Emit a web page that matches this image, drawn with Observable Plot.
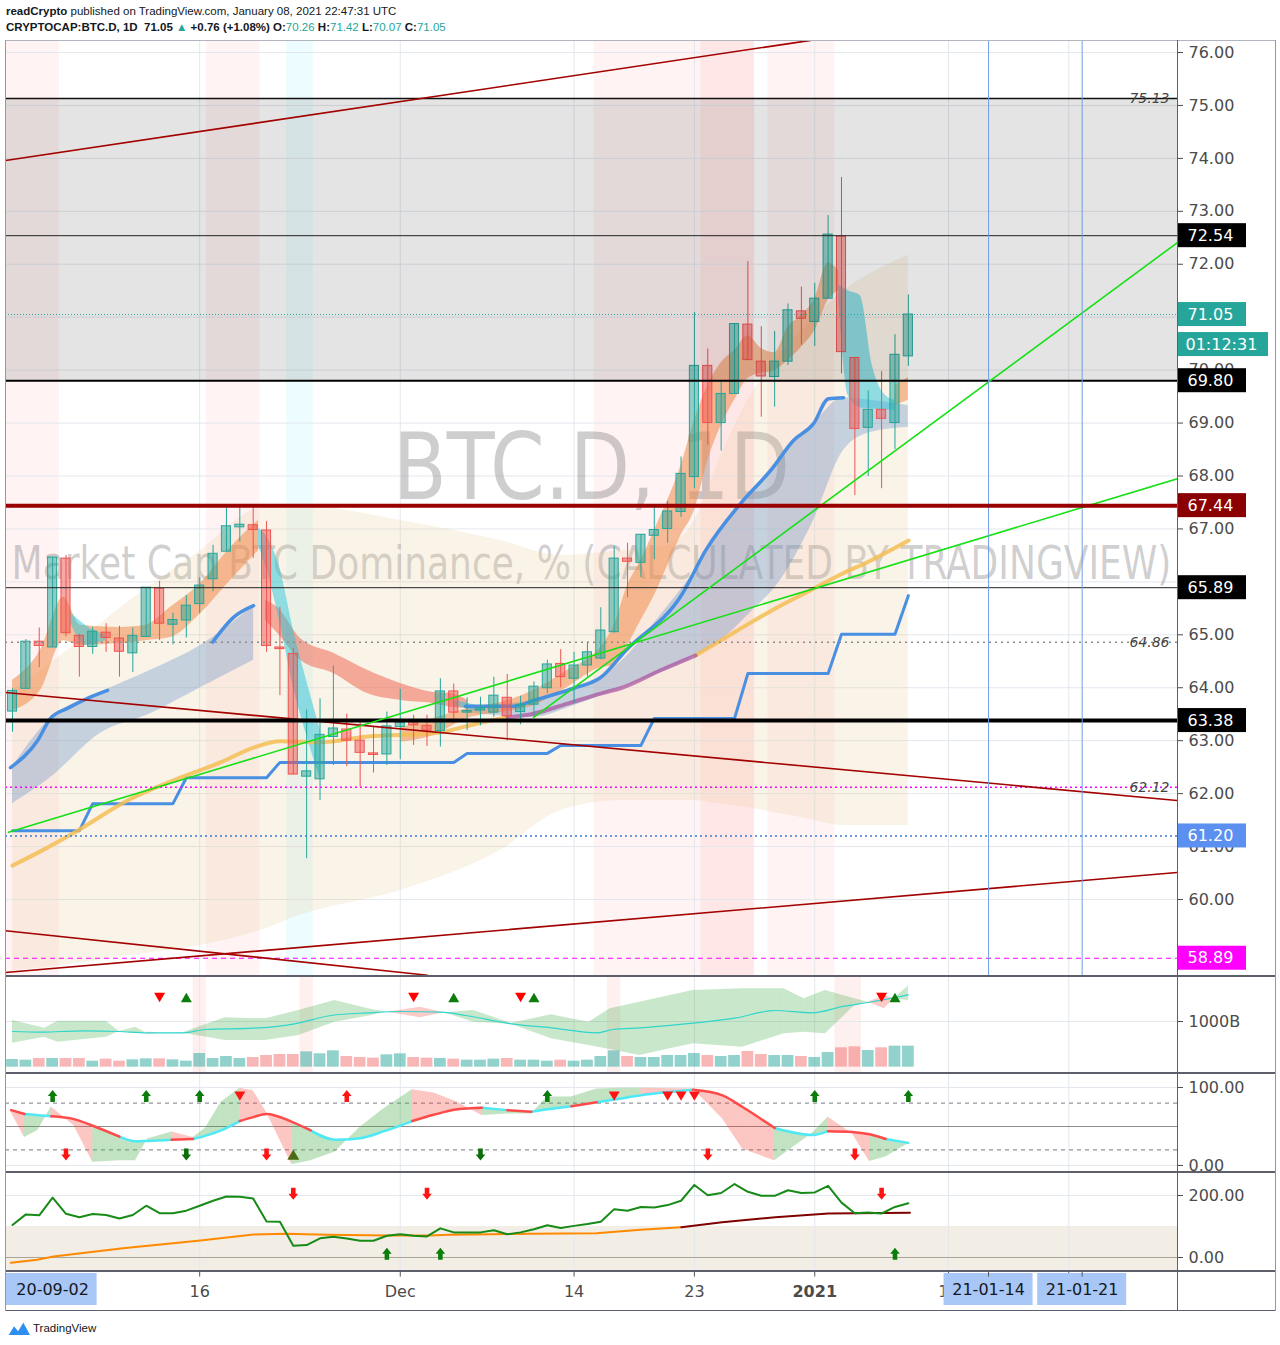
<!DOCTYPE html>
<html>
<head>
<meta charset="utf-8">
<script src="https://cdn.jsdelivr.net/npm/d3@7"></script>
<script src="https://cdn.jsdelivr.net/npm/@observablehq/plot@0.6"></script>
<style>
html,body{margin:0;padding:0;background:#ffffff;}
#root{position:relative;width:1280px;height:1345px;overflow:hidden;background:#fff;}
.ln{position:absolute;}
.hdr{position:absolute;left:6px;font-family:"Liberation Sans",Arial,sans-serif;font-size:11.5px;color:#131722;white-space:nowrap;line-height:14px;}
.hdr .v{color:#26a69a;}
.foot{position:absolute;left:7px;top:1320px;font-family:"Liberation Sans",Arial,sans-serif;font-size:11.5px;color:#131722;display:flex;align-items:center;gap:2px;}
</style>
</head>
<body>
<div id="root"></div>
<script>
// ---------------- DATA ----------------
// candles: index 0 = 2020-11-02 ... 67 = 2021-01-08
const open = [63.55,63.98,64.87,64.76,66.44,64.98,64.77,65.04,64.93,64.65,
 64.96,65.87,65.19,65.27,65.58,66.05,66.57,67.03,67.07,66.97,
 64.76,64.64,62.32,62.27,63.07,63.21,63.00,62.76,62.74,63.26,
 63.34,63.28,63.18,63.93,63.53,63.57,63.53,63.81,63.54,63.68,
 63.99,64.45,64.17,64.42,64.55,65.05,66.44,66.36,66.87,67.00,
 67.32,67.98,70.08,69.00,69.55,70.86,70.16,69.87,70.16,71.11,
 70.91,71.35,72.52,70.23,68.91,69.25,69.00,70.26];
const high = [63.98,64.91,65.13,66.46,66.50,65.01,65.14,65.21,65.16,65.13,
 65.89,66.01,65.41,65.74,66.08,66.69,67.40,67.40,67.40,67.14,
 65.52,64.74,63.58,63.79,64.41,63.50,63.38,63.26,63.54,63.97,
 63.48,63.48,64.17,64.07,63.81,63.82,64.20,64.25,63.84,64.11,
 64.52,64.72,64.67,64.86,65.51,66.67,66.73,66.89,67.41,67.52,
 68.36,71.09,70.40,69.79,70.87,72.05,70.82,70.73,71.25,71.57,
 71.64,72.92,73.64,70.23,69.61,69.97,70.67,71.42];
const low = [63.16,63.98,64.38,64.76,64.96,64.20,64.63,64.67,64.20,64.29,
 64.96,64.89,64.81,64.94,65.40,65.81,66.57,66.75,66.44,64.67,
 63.85,62.36,60.77,61.87,62.53,62.51,62.12,62.39,62.53,62.64,
 62.91,62.89,62.88,63.33,63.19,63.28,63.44,63.00,63.30,63.44,
 63.89,64.00,63.70,64.20,64.53,65.03,65.70,66.08,66.42,66.73,
 67.22,67.76,68.58,68.47,69.55,70.19,69.11,69.30,70.09,70.47,
 70.45,71.35,69.93,67.63,67.99,67.76,68.50,70.07];
const close = [63.94,64.87,64.79,66.46,65.03,64.77,65.06,64.94,64.68,64.98,
 65.89,65.21,65.28,65.55,65.93,66.53,67.05,67.08,66.98,64.79,
 64.74,62.36,62.42,63.11,63.23,63.00,62.77,62.74,63.27,63.34,
 63.29,63.19,63.93,63.53,63.56,63.61,63.85,63.46,63.68,64.02,
 64.44,64.20,64.42,64.67,65.08,66.44,66.38,66.89,66.98,67.33,
 68.04,70.08,69.00,69.55,70.87,70.19,69.88,70.16,71.13,70.97,
 71.35,72.56,70.34,68.89,69.25,69.08,70.29,71.05];
const volume = [168,154,190,190,190,190,132,176,132,161,
 183,183,161,132,300,190,234,190,212,256,
 278,278,336,293,358,234,212,198,271,293,
 212,198,190,176,154,154,176,190,154,154,
 132,154,132,154,234,358,234,212,212,256,
 256,300,256,234,256,344,278,256,256,234,
 212,322,424,446,365,424,461,461];
const stepLine = [61.30,61.30,61.30,61.30,61.30,61.30,
 61.81,61.81,61.81,61.81,61.81,61.81,61.81,
 62.30,62.30,62.30,62.30,62.30,62.30,62.30,
 62.59,62.59,62.59,62.59,62.59,62.59,62.59,62.59,62.59,62.59,62.59,62.59,62.59,62.59,
 62.76,62.76,62.76,62.76,62.76,62.76,62.76,
 62.91,62.91,62.91,62.91,62.91,62.91,62.91,
 63.42,63.42,63.42,63.42,63.42,63.42,63.42,
 64.27,64.27,64.27,64.27,64.27,64.27,64.27,
 65.01,65.01,65.01,65.01,65.01,
 65.74];

// moving lines on the price pane: [index, price]
const blueLineA = [[-0.15,62.49],[1.87,63.00],[2.84,63.42],[4.11,63.61],[5.61,63.80],[7.11,63.95]];
const blueLineB = [[14.96,64.86],[16.53,65.33],[18.03,65.55]];
const blueLineC = [[33.88,63.65],[37.47,63.65],[38.97,63.76],[41.96,63.99],[43.98,64.19],[45.85,64.70],[50.11,65.78],[51.83,66.59],[54.45,67.48],[56.69,68.10],[58.41,68.67],[59.91,68.99],[61.03,69.46],[62.15,69.48]];
const yellowA = [[0,60.64],[1.94,60.89],[4.86,61.30],[8.6,61.87],[12.04,62.25],[15.56,62.59],[18.03,62.87],[20.04,62.99],[23.04,62.97],[26.55,63.08],[31.49,63.14],[35.0,63.34],[37.02,63.44]];
const purpleSeg = [[37.02,63.44],[38.97,63.51],[41.51,63.70],[43.98,63.89],[45.47,63.99],[48.47,64.33],[51.08,64.61]];
const yellowB = [[51.08,64.61],[52.96,64.89],[55.2,65.23],[57.44,65.55],[59.69,65.84],[61.93,66.14],[64.17,66.40],[67.02,66.78]];

// bands on the price pane: index, upper, lower
const beigeI  = [0,3.6,8.8,14.06,18.5,21.5,29,36.5,41,45.5,49,51,53,55,57,59,62.2,67];
const beigeHi = [63.95,64.61,65.65,66.59,67.39,67.44,67.16,66.78,66.50,66.59,66.69,67.16,68.39,69.43,70.18,70.75,71.50,72.17];
const beigeLo = [58.66,58.75,58.94,59.13,59.41,59.70,60.17,60.93,61.68,61.87,61.87,61.87,61.80,61.74,61.64,61.55,61.40,61.40];
const lbLeftI  = [0,2.84,6.58,10.32,14.06,18.03];
const lbLeftHi = [62.51,63.42,63.91,64.33,64.80,65.55];
const lbLeftLo = [61.81,62.30,63.14,63.51,64.00,64.52];
const lbRightI  = [33.88,38.97,41.96,45.47,48.47,51.01,52.96,55.2,57.44,59.91,62.15,64.17,67.0];
const lbRightHi = [63.65,63.76,63.99,64.48,65.37,66.20,66.97,67.69,68.35,68.99,69.48,69.43,69.33];
const lbRightLo = [63.53,63.44,63.66,63.99,64.29,64.59,64.89,65.42,66.03,67.16,68.48,68.82,68.92];
const orLeftI  = [0,2.09,3.81,5.09,8.08,9.95,11.82,14.06,16.31,18.4];
const orLeftHi = [64.14,64.71,65.71,65.18,65.14,65.18,65.52,65.97,66.65,67.16];
const orLeftLo = [63.57,63.95,64.89,64.80,64.84,64.89,64.95,65.40,66.03,66.59];
const salmonI  = [18.92,19.82,21.54,24.01,26.55,29.02,31.49,32.76,34.03];
const salmonHi = [65.65,65.52,64.93,64.65,64.33,64.08,63.91,63.89,63.76];
const salmonLo = [65.27,65.03,64.52,64.27,63.89,63.76,63.70,63.63,63.61];
const cyanWedgeI  = [18.4,19.07,20.04,21.02,22.0,23.04];
const cyanWedgeHi = [67.01,66.84,66.22,65.08,64.13,63.19];
const cyanWedgeLo = [66.69,66.18,65.19,64.00,63.10,62.25];
const cyanSmallI  = [4.34,5.46,6.96];
const cyanSmallHi = [65.42,65.18,64.99];
const cyanSmallLo = [65.23,64.80,64.89];
const cyanMidI  = [33.1,35.0];
const cyanMidHi = [63.76,63.65];
const cyanMidLo = [63.66,63.53];
const orRightI  = [29.02,31.49,34.03,36.5,38.97,41.51,43.98,45,46,47,48,49,50,51,52,53,54,55,56,57,58,59,60,61,61.8];
const orRightHi = [63.25,63.42,63.61,63.72,63.95,64.33,64.76,65.18,65.93,66.40,66.97,67.54,68.20,69.05,69.71,70.14,70.37,70.65,70.41,70.33,70.81,71.03,71.35,72.03,71.88];
const orRightLo = [62.97,63.10,63.42,63.53,63.66,64.01,64.38,64.42,64.80,65.27,65.74,66.31,66.88,67.35,68.29,68.95,69.43,69.84,69.94,69.99,70.18,70.43,70.75,71.32,71.50];
const cyanRightI  = [61.8,62.5,63.4,64.3,65.3,66.0];
const cyanRightHi = [71.60,71.50,71.41,70.09,69.52,69.43];
const cyanRightLo = [71.32,69.52,69.29,69.27,69.24,69.24];
const orEndI  = [66,67];
const orEndHi = [69.71,69.86];
const orEndLo = [69.33,69.43];

// highlighted candle ranges [from, to]
const redZones = [[0,3],[15,18],[44,55],[52,55],[57,61]];
const cyanZones = [[21,22]];
const volZones = [[14,14],[22,22],[45,45],[62,63]];

// trend lines: two anchors [index, price]
const darkRedTrends = [
  [[-0.52,73.96],[59.69,76.23]],
  [[-0.52,63.91],[87.13,61.87]],
  [[-0.52,59.41],[31.04,58.57]],
  [[-0.52,58.62],[87.13,60.51]]
];
const greenTrends = [
  [[-0.30,61.27],[87.13,67.95]],
  [[38.97,63.44],[87.13,72.41]]
];
const boxRange = [69.80, 75.13];
const levelLabels = [75.13, 64.86, 62.12];
const tagValues = [72.54, 71.05, 69.80, 67.44, 65.89, 63.38, 61.20, 58.89];
const countdown = "01:12:31";
const priceTicks = [60,61,62,63,64,65,66,67,68,69,70,71,72,73,74,75,76];
const futureMarks = [73, 80];

// time axis
const timeTicks = [{i:14,label:"16"},{i:29,label:"Dec"},{i:42,label:"14"},{i:51,label:"23"},{i:60,label:"2021"},{i:70,label:"11"},{i:79,label:"20"}];
const dateBoxes = [{i:3,label:"20-09-02"},{i:73,label:"21-01-14"},{i:80,label:"21-01-21"}];

// volume pane
const volBandI = [0,2.4,3.4,7,8,9.2,10.2,11,12.8,15.9,18.9,21.4,24.1,26.6,28,30.5,32.3,34.5,37.3,40.3,43.1,44.7,46.9,50.9,54.6,57.7,59.2,60.8,63,64,65.2,65.9,67];
const volBandA = [1022,854,1007,1007,781,876,722,752,760,1080,1058,1241,1460,1277,1200,1080,1190,1241,960,1146,985,1277,1423,1678,1715,1715,1496,1678,1496,1423,1277,1496,1773];
const volBandB = [526,657,548,657,781,730,766,752,745,584,584,694,985,1117,1200,1314,1190,985,940,621,474,387,255,511,438,730,766,730,1350,1423,1569,1496,1460];
const volMAI = [0,2.2,5.2,8,10.1,12.8,14.4,18,21.1,23.8,26.6,29,32.1,33.9,37.3,40.3,43.7,44.9,47,50.9,54,57,59.8,62.2,64.1,67];
const volMAV = [781,766,796,781,753,753,825,853,950,1131,1190,1219,1204,1131,950,862,753,825,862,963,1072,1241,1190,1335,1422,1584];
const volSignalDown = [11,30,38,65];
const volSignalUp = [13,33,39,66];
const volSignalLevel = 1525;
const volTicks = [1000];

// stochastic pane
const stX = [-0.1,0.9,1.9,2.9,4.6,6.0,8.0,9.2,10.1,11.9,13.5,14.4,15.6,17.0,18.0,19.0,20.9,22.3,24.1,26.0,27.8,29.9,31.5,33.3,35.1,37.0,38.8,40.0,41.8,43.7,45.5,47.0,50.9,53.1,54.6,57.0,59.8,61.0,62.8,64.1,65.3,67.0];
const stK = [68,36,45,75,51,4,6,6,34,43,36,47,81,99,96,68,1,6,17,49,73,97,93,81,64,66,66,88,88,98,99,99,98,60,21,6,41,62,41,5,11,28];
const stD = [71,66,64.5,63,59.5,51,37,31,31.5,33,34,38,45,57,62,66,56,45,33,35,44,57,65,72,74,71,69,72,76,81,86,90,97,90,75,48,39,44,43,40,34,29];
const stState = [-1,1,1,-1,-1,-1,1,1,1,-1,1,1,1,-1,-1,-1,-1,1,1,1,1,-1,-1,-1,1,-1,1,1,-1,1,1,1,-1,-1,-1,1,1,-1,-1,-1,1,1];
const stLevels = [20,50,80];
const stTicks = [0,100];
const stUpGreenTop = [3,10,14,40,60,67];
const stUpRedTop = [25];
const stTriRedTop = [17,45,49,50,51];
const stDownRedBottom = [4,19,52,63];
const stDownGreenBottom = [13,35];
const stTriGreenBottom = [21];
const stTopLevel = 89, stBottomLevel = 14;

// third pane
const thGreen = [105,139,136,193,141,130,140,137,126,137,167,143,143,151,167,183,197,196,190,116,
 115,38,40,62,67,61,54,54,70,75,70,68,94,81,81,81,88,75,81,91,
 104,95,102,108,115,156,151,163,161,169,183,234,201,208,237,212,199,199,217,208,
 210,231,177,143,145,142,163,175];
const thOrange = [[-0.13,-17.2],[1.85,-7.5],[3.07,3.2],[8.26,30.1],[14.06,54.8],[18.03,74.2],[20.47,76.3],[23.5,73.1],[28.1,71.0],[31.15,71.0],[32.7,73.1],[38.79,76.3],[43.67,78.5],[46.97,89.2],[50.02,97.8]];
const thMaroon = [[50.02,97.8],[53.07,113.9],[57.05,130.1],[61.02,141.9],[67.12,144.1]];
const thZone = 100;
const thTicks = [0,200];
const thDownRed = [21,31,65];
const thUpGreen = [28,32,66];
const thTopLevel = 206, thBottomLevel = 12;

// ---------------- LAYOUT / STYLE ----------------
const TEAL = "#26a69a", RED = "#ef5350", GRID = "#e3e7ee", AXC = "#4b4b4b";
const W = 1270, MR = 98;
const X0 = -0.524, X1 = 87.13;
const pxu = (W - MR) / (X1 - X0);
const mainY = [58.564, 76.227], mainH = 935;
const pyu = mainH / (mainY[1] - mainY[0]);
const root = document.getElementById("root");

const candles = open.map((o, i) => ({i, o, h: high[i], l: low[i], c: close[i], v: volume[i], up: close[i] >= o}));
const bandOf = (I, H, L) => I.map((i, k) => ({i, hi: H[k], lo: L[k]}));
const pts = arr => arr.map(([i, p]) => ({i, p}));
const groups = list => list.flatMap((seg, g) => seg.map(([i, p]) => ({i, p, g})));

const base = (h, ydom) => ({
  width: W, height: h, marginLeft: 0, marginRight: MR, marginTop: 0, marginBottom: 0,
  x: {domain: [X0, X1], axis: null}, y: {domain: ydom, axis: null},
  color: {type: "identity"},
  style: {background: "transparent", fontFamily: "DejaVu Sans, sans-serif", fontSize: "16px", overflow: "visible"}
});
const rightAxis = (ticks, fmt) => Plot.axisY(ticks, {anchor: "right", tickSize: 5, tickPadding: 6, tickFormat: fmt, fontSize: 16, color: AXC, label: null});

// custom symbols
const rr = s => Math.sqrt(s / Math.PI);
const triUp = {draw(c, s) {const r = rr(s); c.moveTo(0, -r * 0.85); c.lineTo(r, r * 0.85); c.lineTo(-r, r * 0.85); c.closePath();}};
const triDown = {draw(c, s) {const r = rr(s); c.moveTo(0, r * 0.85); c.lineTo(r, -r * 0.85); c.lineTo(-r, -r * 0.85); c.closePath();}};
const arrUp = {draw(c, s) {const r = rr(s); c.moveTo(0, -r); c.lineTo(r * 0.8, 0); c.lineTo(r * 0.38, 0); c.lineTo(r * 0.38, r); c.lineTo(-r * 0.38, r); c.lineTo(-r * 0.38, 0); c.lineTo(-r * 0.8, 0); c.closePath();}};
const arrDown = {draw(c, s) {const r = rr(s); c.moveTo(0, r); c.lineTo(r * 0.8, 0); c.lineTo(r * 0.38, 0); c.lineTo(r * 0.38, -r); c.lineTo(-r * 0.38, -r); c.lineTo(-r * 0.38, 0); c.lineTo(-r * 0.8, 0); c.closePath();}};

function place(el, top) {
  el.style.position = "absolute"; el.style.left = "5px"; el.style.top = top + "px";
  root.appendChild(el);
}

// ---------------- MAIN PANE ----------------
const WM1 = "BTC.D, 1D", WM2 = "Market Cap BTC Dominance, % (CALCULATED BY TRADINGVIEW)";
const tagColors = ["#000000", TEAL, "#000000", "#8b0000", "#000000", "#000000", "#5b8ff0", "#ff00ff"];
const tags = tagValues.map((v, k) => ({v, color: tagColors[k]}));
const lastClose = close[close.length - 1];
const bodyTop = d => Math.abs(d.c - d.o) < 0.03 ? d.o + (d.up ? 0.03 : -0.03) : d.c;
// axis labels that sit completely under a price tag are not drawn
const visiblePriceTicks = priceTicks.filter(t => tagValues.every(v => Math.abs(t - v) * pyu > 7));

const mainSvg = Plot.plot({
  ...base(mainH, mainY),
  marks: [
    Plot.rect(redZones, {x1: d => d[0] - 0.5, x2: d => d[1] + 0.5, fill: "#ff3030", fillOpacity: 0.06}),
    Plot.rect(cyanZones, {x1: d => d[0] - 0.5, x2: d => d[1] + 0.5, fill: "#00e5ff", fillOpacity: 0.07}),
    Plot.ruleY(priceTicks, {stroke: GRID}),
    Plot.ruleX(timeTicks, {x: "i", stroke: GRID}),
    Plot.text([WM1], {frameAnchor: "middle", dy: -38, fontSize: 92, fill: "#777", fillOpacity: 0.36}),
    Plot.text([WM2], {frameAnchor: "middle", dy: 56, fontSize: 46, fill: "#777", fillOpacity: 0.36}),
    Plot.areaY(bandOf(beigeI, beigeHi, beigeLo), {x: "i", y1: "lo", y2: "hi", fill: "#e8c898", fillOpacity: 0.22, curve: "monotone-x"}),
    Plot.areaY(bandOf(lbLeftI, lbLeftHi, lbLeftLo), {x: "i", y1: "lo", y2: "hi", fill: "#4f86c6", fillOpacity: 0.3, curve: "monotone-x"}),
    Plot.areaY(bandOf(lbRightI, lbRightHi, lbRightLo), {x: "i", y1: "lo", y2: "hi", fill: "#4f86c6", fillOpacity: 0.3, curve: "monotone-x"}),
    Plot.areaY(bandOf(orLeftI, orLeftHi, orLeftLo), {x: "i", y1: "lo", y2: "hi", fill: "#f08a4b", fillOpacity: 0.55, curve: "monotone-x"}),
    Plot.areaY(bandOf(orRightI, orRightHi, orRightLo), {x: "i", y1: "lo", y2: "hi", fill: "#f08a4b", fillOpacity: 0.55, curve: "monotone-x"}),
    Plot.areaY(bandOf(orEndI, orEndHi, orEndLo), {x: "i", y1: "lo", y2: "hi", fill: "#f08a4b", fillOpacity: 0.55}),
    Plot.areaY(bandOf(salmonI, salmonHi, salmonLo), {x: "i", y1: "lo", y2: "hi", fill: "#ee6a55", fillOpacity: 0.55, curve: "monotone-x"}),
    Plot.areaY(bandOf(cyanWedgeI, cyanWedgeHi, cyanWedgeLo), {x: "i", y1: "lo", y2: "hi", fill: "#26c6da", fillOpacity: 0.5, curve: "monotone-x"}),
    Plot.areaY(bandOf(cyanSmallI, cyanSmallHi, cyanSmallLo), {x: "i", y1: "lo", y2: "hi", fill: "#26c6da", fillOpacity: 0.5, curve: "monotone-x"}),
    Plot.areaY(bandOf(cyanMidI, cyanMidHi, cyanMidLo), {x: "i", y1: "lo", y2: "hi", fill: "#26c6da", fillOpacity: 0.5}),
    Plot.areaY(bandOf(cyanRightI, cyanRightHi, cyanRightLo), {x: "i", y1: "lo", y2: "hi", fill: "#26c6da", fillOpacity: 0.5, curve: "monotone-x"}),
    Plot.line(stepLine, {x: (d, i) => i, y: d => d, stroke: "#4a90e2", strokeWidth: 3}),
    Plot.line(groups([blueLineA, blueLineB, blueLineC]), {x: "i", y: "p", z: "g", stroke: "#4a90e2", strokeWidth: 3.5, curve: "monotone-x"}),
    Plot.line(groups([yellowA, yellowB]), {x: "i", y: "p", z: "g", stroke: "#f5bd55", strokeOpacity: 0.85, strokeWidth: 4, curve: "monotone-x"}),
    Plot.line(pts(purpleSeg), {x: "i", y: "p", stroke: "#a8509f", strokeOpacity: 0.7, strokeWidth: 4, curve: "monotone-x"}),
    Plot.ruleX(candles.filter(d => d.up), {x: "i", y1: "l", y2: "h", stroke: TEAL}),
    Plot.ruleX(candles.filter(d => !d.up), {x: "i", y1: "l", y2: "h", stroke: RED}),
    Plot.rect(candles.filter(d => d.up), {x1: d => d.i - 0.34, x2: d => d.i + 0.34, y1: "o", y2: bodyTop, fill: TEAL, fillOpacity: 0.5, stroke: TEAL}),
    Plot.rect(candles.filter(d => !d.up), {x1: d => d.i - 0.34, x2: d => d.i + 0.34, y1: "o", y2: bodyTop, fill: RED, fillOpacity: 0.5, stroke: RED}),
    Plot.rect([boxRange], {y1: d => d[0], y2: d => d[1], fill: "#000", fillOpacity: 0.105}),
    Plot.ruleY([lastClose], {stroke: TEAL, strokeWidth: 1, strokeDasharray: "1,2"}),
    Plot.ruleY([tagValues[6]], {stroke: "#3d7bd9", strokeWidth: 1.5, strokeDasharray: "2,3"}),
    Plot.ruleY([levelLabels[2]], {stroke: "#ff00ff", strokeWidth: 1.5, strokeDasharray: "2,3"}),
    Plot.ruleY([levelLabels[1]], {stroke: "#8c8c8c", strokeWidth: 1.5, strokeDasharray: "2,4"}),
    Plot.ruleY([tagValues[7]], {stroke: "#ff00ff", strokeWidth: 1.2, strokeDasharray: "5,4"}),
    Plot.ruleY([levelLabels[0]], {stroke: "#111", strokeWidth: 1.5}),
    Plot.ruleY([tagValues[0], tagValues[4]], {stroke: "#222", strokeWidth: 1}),
    Plot.ruleY([tagValues[2]], {stroke: "#000", strokeWidth: 2}),
    Plot.line(groups(darkRedTrends), {x: "i", y: "p", z: "g", stroke: "#a30000", strokeWidth: 1.6, clip: true}),
    Plot.ruleY([tagValues[5]], {stroke: "#000", strokeWidth: 4}),
    Plot.line(groups(greenTrends), {x: "i", y: "p", z: "g", stroke: "#16e016", strokeWidth: 1.6, clip: true}),
    Plot.ruleX(futureMarks, {stroke: "#6f9fe6", strokeWidth: 1}),
    Plot.ruleY([tagValues[3]], {stroke: "#990000", strokeWidth: 4}),
    Plot.text(levelLabels, {x: () => X1, y: d => d, text: d => d.toFixed(2), textAnchor: "end", dx: -8, fontSize: 14, fontStyle: "italic", fill: "#454545"}),
    rightAxis(visiblePriceTicks, d => d.toFixed(2)),
    Plot.rect(tags, {x1: () => X1 + 1 / pxu, x2: () => X1 + 69 / pxu, y1: d => d.v - 12 / pyu, y2: d => d.v + 12 / pyu, fill: "color"}),
    Plot.rect([lastClose], {x1: () => X1 + 1 / pxu, x2: () => X1 + 91 / pxu, y1: d => d - 12 / pyu, y2: d => d + 12 / pyu, dy: 30, fill: TEAL}),
    Plot.text(tags, {x: () => X1 + 10 / pxu, y: "v", text: d => d.v.toFixed(2), textAnchor: "start", fill: "white", fontSize: 16}),
    Plot.text([lastClose], {x: () => X1 + 8 / pxu, y: d => d, dy: 30, text: () => countdown, textAnchor: "start", fill: "white", fontSize: 16})
  ]
});
place(mainSvg, 40);
// squeeze the two watermark captions horizontally to the reference widths
mainSvg.querySelectorAll("text").forEach(t => {
  const target = t.textContent === WM1 ? 397 : t.textContent === WM2 ? 1160 : 0;
  if (!target) return;
  const w = t.getComputedTextLength();
  if (!w) return;
  const k = target / w;
  const xs = t.getAttribute("x");
  const x = xs && !isNaN(+xs) ? +xs : 0;
  if (xs && !isNaN(+xs)) t.removeAttribute("x");
  const tr = t.getAttribute("transform") || "";
  t.setAttribute("transform", `${tr} translate(${x},0) scale(${k},1)`);
});

// band splitter for crossing fills
function crossSplit(I, A, B) {
  const P = I.map((x, k) => ({x, a: A[k], b: B[k]}));
  const segs = [];
  for (let j = 0; j < P.length - 1; j++) {
    const p = P[j], q = P[j + 1], dp = p.a - p.b, dq = q.a - q.b;
    if (dp * dq < 0) {
      const t = dp / (dp - dq);
      const m = {x: p.x + t * (q.x - p.x), a: p.a + t * (q.a - p.a), b: p.b + t * (q.b - p.b)};
      segs.push([p, m], [m, q]);
    } else segs.push([p, q]);
  }
  return segs.map((s, k) => ({k, up: (s[0].a - s[0].b + s[1].a - s[1].b) >= 0, s}));
}
const flat = (segs, up) => segs.filter(d => d.up === up).flatMap(d => d.s.map(p => ({...p, k: d.k})));

// ---------------- VOLUME PANE ----------------
const volY = [-138, 1985];
const vSegs = crossSplit(volBandI, volBandA, volBandB);
const volSvg = Plot.plot({
  ...base(97, volY),
  marks: [
    Plot.rect(volZones, {x1: d => d[0] - 0.5, x2: d => d[1] + 0.5, fill: "#ff3030", fillOpacity: 0.07}),
    Plot.ruleY(volTicks, {stroke: GRID}),
    Plot.ruleX(timeTicks, {x: "i", stroke: GRID}),
    Plot.areaY(flat(vSegs, true), {x: "x", y1: "b", y2: "a", z: "k", fill: "#4caf50", fillOpacity: 0.3}),
    Plot.areaY(flat(vSegs, false), {x: "x", y1: "b", y2: "a", z: "k", fill: "#f44336", fillOpacity: 0.28}),
    Plot.line(volMAI.map((i, k) => ({i, v: volMAV[k]})), {x: "i", y: "v", stroke: "#2fd6cc", strokeWidth: 1.2, curve: "monotone-x"}),
    Plot.rect(candles.filter(d => d.up), {x1: d => d.i - 0.44, x2: d => d.i + 0.44, y1: () => 0, y2: "v", fill: TEAL, fillOpacity: 0.5}),
    Plot.rect(candles.filter(d => !d.up), {x1: d => d.i - 0.44, x2: d => d.i + 0.44, y1: () => 0, y2: "v", fill: RED, fillOpacity: 0.42}),
    Plot.dot(volSignalDown, {x: d => d, y: () => volSignalLevel, symbol: triDown, r: 5.5, fill: "#ff0000", stroke: "none"}),
    Plot.dot(volSignalUp, {x: d => d, y: () => volSignalLevel, symbol: triUp, r: 5.5, fill: "#0a7d0a", stroke: "none"}),
    rightAxis(volTicks, d => d + "B")
  ]
});
place(volSvg, 976);

// ---------------- STOCHASTIC PANE ----------------
const stY = [-9, 116.7];
const st = stX.map((x, j) => ({x, k: stK[j], d: stD[j], s: stState[j]}));
const stSeg = [];
for (let j = 0; j < st.length - 1; j++) {
  const up = st[j + 1].k >= st[j].k;
  stSeg.push({...st[j], seg: j, up}, {...st[j + 1], seg: j, up});
}
const runs = [];
let run = 0;
for (let j = 0; j < st.length - 1; j++) {
  if (j > 0 && st[j].s !== st[j - 1].s) run++;
  runs.push({...st[j], run, c: st[j].s}, {...st[j + 1], run, c: st[j].s});
}
const stSvg = Plot.plot({
  ...base(98, stY),
  marks: [
    Plot.ruleY(stTicks, {stroke: GRID}),
    Plot.ruleX(timeTicks, {x: "i", stroke: GRID}),
    Plot.ruleY([stLevels[0], stLevels[2]], {stroke: "#787b86", strokeDasharray: "4,4"}),
    Plot.ruleY([stLevels[1]], {stroke: "#8d8d8d"}),
    Plot.areaY(stSeg.filter(d => d.up), {x: "x", y1: "d", y2: "k", z: "seg", fill: "#4caf50", fillOpacity: 0.35}),
    Plot.areaY(stSeg.filter(d => !d.up), {x: "x", y1: "d", y2: "k", z: "seg", fill: "#f44336", fillOpacity: 0.3}),
    Plot.line(runs.filter(d => d.c > 0), {x: "x", y: "d", z: "run", stroke: "#4ee9f5", strokeWidth: 2.5, curve: "monotone-x"}),
    Plot.line(runs.filter(d => d.c < 0), {x: "x", y: "d", z: "run", stroke: "#ff4a4a", strokeWidth: 2.5, curve: "monotone-x"}),
    Plot.dot(stUpGreenTop, {x: d => d, y: () => stTopLevel, symbol: arrUp, r: 6, fill: "#0a7d0a", stroke: "none"}),
    Plot.dot(stUpRedTop, {x: d => d, y: () => stTopLevel, symbol: arrUp, r: 6, fill: "#ff1414", stroke: "none"}),
    Plot.dot(stTriRedTop, {x: d => d, y: () => stTopLevel, symbol: triDown, r: 5.5, fill: "#ff1414", stroke: "none"}),
    Plot.dot(stDownRedBottom, {x: d => d, y: () => stBottomLevel, symbol: arrDown, r: 6, fill: "#ff1414", stroke: "none"}),
    Plot.dot(stDownGreenBottom, {x: d => d, y: () => stBottomLevel, symbol: arrDown, r: 6, fill: "#0a6e0a", stroke: "none"}),
    Plot.dot(stTriGreenBottom, {x: d => d, y: () => stBottomLevel, symbol: triUp, r: 6, fill: "#4b6a14", stroke: "none"}),
    rightAxis(stTicks, d => d.toFixed(2))
  ]
});
place(stSvg, 1074);

// ---------------- THIRD PANE ----------------
const thY = [-45.2, 274.2];
const thSvg = Plot.plot({
  ...base(99, thY),
  marks: [
    Plot.rect([thZone], {y1: () => thY[0], y2: d => d, fill: "#efe9df", fillOpacity: 0.8}),
    Plot.ruleY([thTicks[1]], {stroke: GRID}),
    Plot.ruleX(timeTicks, {x: "i", stroke: GRID}),
    Plot.ruleY([thTicks[0]], {stroke: "#aaa39a"}),
    Plot.line(pts(thOrange), {x: "i", y: "p", stroke: "#ff8a00", strokeWidth: 2}),
    Plot.line(pts(thMaroon), {x: "i", y: "p", stroke: "#800000", strokeWidth: 2}),
    Plot.line(thGreen, {x: (d, i) => i, y: d => d, stroke: "#178a17", strokeWidth: 2}),
    Plot.dot(thDownRed, {x: d => d, y: () => thTopLevel, symbol: arrDown, r: 6, fill: "#ff1414", stroke: "none"}),
    Plot.dot(thUpGreen, {x: d => d, y: () => thBottomLevel, symbol: arrUp, r: 6, fill: "#0a7d0a", stroke: "none"}),
    rightAxis(thTicks, d => d.toFixed(2))
  ]
});
place(thSvg, 1172);

// ---------------- TIME AXIS ----------------
const boxHalf = 44.5 / pxu;
// a tick label whose whole extent lies inside a date box is not drawn
const coveredTick = d => dateBoxes.some(b => Math.abs(d.i - b.i) + 0.8 < boxHalf);
const shownTicks = timeTicks.filter(d => !coveredTick(d));
const taxSvg = Plot.plot({
  ...base(40, [0, 1]),
  marks: [
    Plot.ruleX(timeTicks, {x: "i", y1: () => 1, y2: () => 0.86, stroke: "#555"}),
    Plot.text(shownTicks.filter(d => d.label !== "2021"), {x: "i", y: () => 0.5, text: "label", fontSize: 16, fill: AXC}),
    Plot.text(shownTicks.filter(d => d.label === "2021"), {x: "i", y: () => 0.5, text: "label", fontSize: 16, fontWeight: "bold", fill: AXC}),
    Plot.rect(dateBoxes, {x1: d => Math.max(X0, d.i - boxHalf - (d.i < 10 ? 3 / pxu : 0)), x2: d => d.i + boxHalf, y1: () => 0.15, y2: () => 0.95, fill: "#a9c7f6"}),
    Plot.ruleX(dateBoxes.slice(1), {x: "i", y1: () => 1, y2: () => 0.86, stroke: "#555"}),
    Plot.text(dateBoxes, {x: "i", y: () => 0.55, text: "label", fontSize: 16, fill: "#131722"})
  ]
});
place(taxSvg, 1271);

// ---------------- FRAME ----------------
function line(l, t, w, h, c) {
  const d = document.createElement("div");
  d.className = "ln";
  Object.assign(d.style, {left: l + "px", top: t + "px", width: w + "px", height: h + "px", background: c});
  root.appendChild(d);
}
line(5, 40, 1271, 1, "#b2b5be");
[975, 1072, 1171, 1270].forEach(t => line(5, t, 1271, 2, "#5d606b"));
line(5, 1310, 1271, 1, "#5d606b");
line(5, 40, 1, 1271, "#9598a1");
line(1177, 40, 1, 1271, "#5d606b");
line(1275, 40, 1, 1271, "#9598a1");

// ---------------- HEADER / FOOTER ----------------
const prev = close[close.length - 2];
const chg = lastClose - prev;
const h1 = document.createElement("div");
h1.className = "hdr"; h1.style.top = "4px";
h1.innerHTML = "<b>readCrypto</b> published on TradingView.com, January 08, 2021 22:47:31 UTC";
root.appendChild(h1);
const h2 = document.createElement("div");
h2.className = "hdr"; h2.style.top = "20px";
const f2 = v => v.toFixed(2);
h2.innerHTML = `<b>CRYPTOCAP:BTC.D, 1D</b>&nbsp; <b>${f2(lastClose)}</b> <span class="v">&#9650;</span> <b>+${f2(chg)} (+${f2(chg / prev * 100)}%)</b> <b>O:</b><span class="v">${f2(open[67])}</span> <b>H:</b><span class="v">${f2(high[67])}</span> <b>L:</b><span class="v">${f2(low[67])}</span> <b>C:</b><span class="v">${f2(close[67])}</span>`;
root.appendChild(h2);
const ft = document.createElement("div");
ft.className = "foot";
ft.innerHTML = `<svg width="24" height="16" viewBox="0 0 24 16"><path d="M1 15 L7 5 L11 10 L16 2 L23 15 Z" fill="#2f8ff0"/><path d="M1 15 L7 5 L11 10 L16 2" fill="none" stroke="#fff" stroke-width="1.4"/></svg><span>TradingView</span>`;
root.appendChild(ft);
</script>
</body>
</html>
